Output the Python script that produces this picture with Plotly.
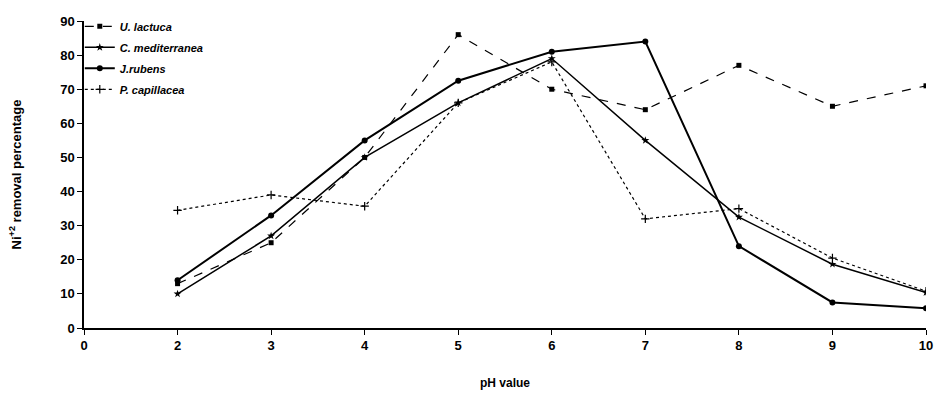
import plotly.graph_objects as go

# Category axis (pH values) as shown in the figure
ph_labels = ["0", "2", "3", "4", "5", "6", "7", "8", "9", "10"]

# Ni+2 removal percentage per series (no value at pH "0")
u_lactuca = [None, 13, 25, 50, 86, 70, 64, 77, 65, 71]
c_mediterranea = [None, 10, 27, 50, 66, 79, 55, 32.5, 18.7, 10.4]
j_rubens = [None, 14, 33, 55, 72.5, 81, 84, 24, 7.5, 5.8]
p_capillacea = [None, 34.5, 39, 35.7, 66, 78, 32, 35, 20.5, 10.8]

series_names = ["U. lactuca", "C. mediterranea", "J.rubens", "P. capillacea"]

fig = go.Figure()

fig.add_trace(go.Scatter(
    x=ph_labels, y=u_lactuca, name=series_names[0], mode="lines+markers",
    legendgroup="a",
    line=dict(color="black", width=1.2, dash="dash"),
    marker=dict(symbol="square", size=5, color="black"),
))
fig.add_trace(go.Scatter(
    x=ph_labels, y=c_mediterranea, name=series_names[1], mode="lines+markers",
    legendgroup="b",
    line=dict(color="black", width=1.5),
    marker=dict(symbol="star", size=6, color="black"),
))
fig.add_trace(go.Scatter(
    x=ph_labels, y=j_rubens, name=series_names[2], mode="lines+markers",
    legendgroup="c",
    line=dict(color="black", width=2),
    marker=dict(symbol="circle", size=6, color="black"),
))
fig.add_trace(go.Scatter(
    x=ph_labels, y=p_capillacea, name=series_names[3], mode="lines+markers",
    legendgroup="d",
    line=dict(color="black", width=1.2, dash="dot"),
    marker=dict(symbol="cross-thin-open", size=6, color="black",
                line=dict(width=1.2, color="black")),
))

axis_font = dict(family="Liberation Sans, Arial, sans-serif", size=13,
                 color="black", weight="bold")

fig.update_layout(
    width=947, height=397,
    margin=dict(l=84, r=21, t=15, b=69),
    paper_bgcolor="white", plot_bgcolor="white",
    showlegend=True,
    legend=dict(
        x=-0.005, y=1.03, xanchor="left", yanchor="top",
        bgcolor="rgba(0,0,0,0)", borderwidth=0,
        font=dict(family="Liberation Sans, Arial, sans-serif", size=11,
                  color="black", style="italic", weight="bold"),
        itemwidth=30, tracegroupgap=2,
    ),
    xaxis=dict(
        type="category", categoryorder="array", categoryarray=ph_labels,
        range=[0, 9], showgrid=False, zeroline=False, automargin=False,
        showline=True, linecolor="black", linewidth=1.5,
        ticks="outside", ticklen=5, tickcolor="black",
        tickfont=axis_font,
        title=dict(text="pH value", font=dict(axis_font, size=12), standoff=26),
    ),
    yaxis=dict(
        range=[0, 90], dtick=10, showgrid=False, zeroline=False, automargin=False,
        showline=True, linecolor="black", linewidth=1.5,
        ticks="outside", ticklen=5, tickcolor="black",
        tickfont=axis_font,
        title=dict(text="Ni<sup>+2</sup> removal percentage", font=axis_font,
                   standoff=36),
    ),
)

fig.write_html("out.html")
